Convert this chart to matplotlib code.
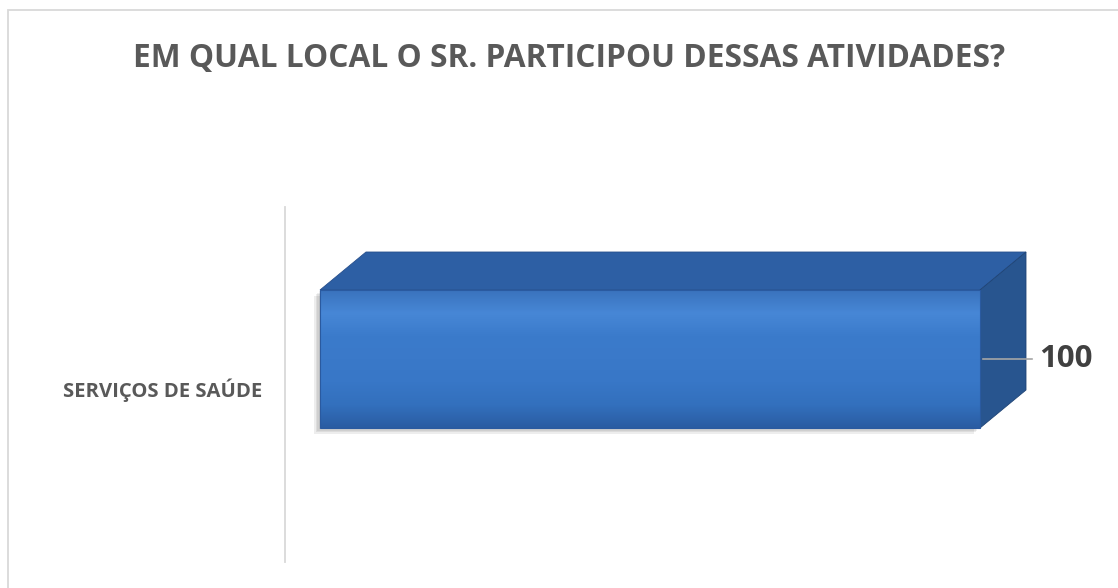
import numpy as np
import matplotlib.pyplot as plt
from matplotlib.patches import Polygon, Rectangle
from matplotlib.colors import LinearSegmentedColormap
import matplotlib.transforms as mtransforms

categorias = ['SERVIÇOS DE SAÚDE']
valores = [100]
titulo = 'EM QUAL LOCAL O SR. PARTICIPOU DESSAS ATIVIDADES?'

W, H = 1118, 588
fig = plt.figure(figsize=(W / 100, H / 100), dpi=100)
fig.patch.set_facecolor('white')

# moldura do gráfico (continua para fora da imagem)
fig.add_artist(Rectangle((8 / W, -0.2), 1.2, 1.2 - 10 / H, transform=fig.transFigure,
                         fill=False, ec='#d9d9d9', lw=1.3))

# eixos: posição em pixels
ax = fig.add_axes([285 / W, (H - 562) / H, 760 / W, 355 / H])
ax.set_xlim(-35 / 6.6, -35 / 6.6 + 760 / 6.6)
ax.set_ylim(-203 / 355, 152 / 355)
ax.axis('off')

bars = ax.barh(range(len(categorias)), valores, height=138 / 355,
               color='#3a78c8', edgecolor='none', zorder=3)

# profundidade 3D em pixels
dx, dy = 46 / 100 * 72, 38 / 100 * 72
off = mtransforms.offset_copy(ax.transData, fig=fig, x=dx, y=dy, units='points')
cmap_front = LinearSegmentedColormap.from_list(
    'frente', ['#2a5ca2', '#3370bd', '#3877c7', '#3a79c9', '#3b7bcb', '#4787d6', '#3a73bd'])

for b in bars:
    x0, y0 = b.get_x(), b.get_y()
    x1, y1 = x0 + b.get_width(), y0 + b.get_height()
    # sombra suave
    for i, a in enumerate([0.06, 0.06, 0.07, 0.07]):
        s = mtransforms.offset_copy(ax.transData, fig=fig, x=-1 - i, y=-1 - i, units='points')
        ax.add_patch(Rectangle((x0, y0), x1 - x0, y1 - y0, transform=s,
                               fc='black', alpha=a, ec='none', zorder=1))
    inv = ax.transData.inverted()
    # topo
    topo_pts = ax.transData.transform([(x0, y1), (x1, y1)])
    topo_back = off.transform([(x1, y1), (x0, y1)])
    topo = Polygon(inv.transform(np.vstack([topo_pts, topo_back])), closed=True,
                   fc='#2d5fa4', ec='#274f8c', lw=0.6, zorder=2)
    ax.add_patch(topo)
    # lateral direita
    lat_front = ax.transData.transform([(x1, y0), (x1, y1)])
    lat_back = off.transform([(x1, y1), (x1, y0)])
    lateral = Polygon(inv.transform(np.vstack([lat_front, lat_back])), closed=True,
                      fc='#28558f', ec='#1f4475', lw=0.6, zorder=2)
    ax.add_patch(lateral)
    # gradiente da face frontal
    grad = np.linspace(0, 1, 256).reshape(-1, 1)
    im = ax.imshow(grad, cmap=cmap_front, aspect='auto', origin='lower',
                   extent=(x0, x1, y0, y1), zorder=4)
    im.set_clip_path(b)
    ax.add_patch(Rectangle((x0, y0), x1 - x0, y1 - y0, fill=False,
                           ec='#2a5aa0', lw=0.8, zorder=5))
    # linha de chamada e rótulo
    yc = (y0 + y1) / 2
    ax.annotate('', xy=(x1, yc), xytext=(x1 + 55 / 6.6, yc),
                arrowprops=dict(arrowstyle='-', color='#a6a6a6', lw=1.2), zorder=6)
    ax.text(x1 + 59 / 6.6, yc, str(valores[0]), ha='left', va='center',
            fontsize=22.5, fontweight='bold', color='#404040', family='Open Sans', zorder=6)

ax.set_ylim(-203 / 355, 152 / 355)

# eixo das categorias
fig.add_artist(plt.Line2D([285 / W, 285 / W], [(H - 562) / H, (H - 207) / H],
                          transform=fig.transFigure, color='#d9d9d9', lw=1.3))
for i, c in enumerate(categorias):
    fig.text(262 / W, (H - 390) / H, c, ha='right', va='center', fontsize=14.6,
             fontweight='bold', color='#595959', family='Open Sans')

fig.text(569 / W, (H - 58) / H, titulo, ha='center', va='center', fontsize=22.8,
         fontweight='bold', color='#595959', family='Open Sans')

fig.savefig('out.png', dpi=100, facecolor='white')
